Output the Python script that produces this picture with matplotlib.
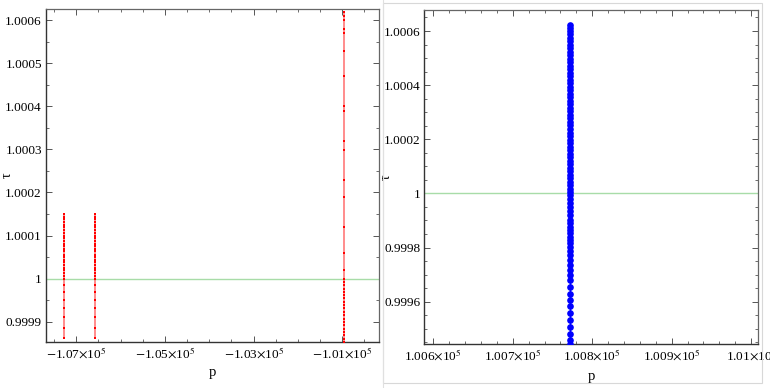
import matplotlib
matplotlib.use("Agg")
import matplotlib.pyplot as plt
from matplotlib.ticker import MultipleLocator, FixedLocator
from matplotlib.patches import Rectangle

plt.rcParams['font.family'] = ['Liberation Serif', 'DejaVu Serif']
plt.rcParams['mathtext.fontset'] = 'stix'

# ---------------- data ----------------
# left panel: red branches (p, tau)
red_p = [-107284, -106578, -100955]
red_tau_a = [1.000150, 1.000144, 1.000138, 1.000131, 1.000125, 1.000119, 1.000113,
             1.000106, 1.000100, 1.000094, 1.000088, 1.000081, 1.000075, 1.000069,
             1.000063, 1.000056, 1.000050, 1.000044, 1.000038, 1.000031, 1.000025,
             1.000019, 1.000013, 1.000006, 1.000000, 0.999985, 0.999968, 0.999951,
             0.999931, 0.999910, 0.999886, 0.999862]
red_tau_b = [1.000150, 1.000144, 1.000138, 1.000131, 1.000125, 1.000119, 1.000113,
             1.000106, 1.000100, 1.000094, 1.000088, 1.000081, 1.000075, 1.000069,
             1.000063, 1.000056, 1.000050, 1.000044, 1.000038, 1.000031, 1.000025,
             1.000019, 1.000013, 1.000006, 1.000000, 0.999985, 0.999968, 0.999951,
             0.999931, 0.999910, 0.999886, 0.999862]
red_tau_c = [1.000619, 1.000609, 1.000600, 1.000579, 1.000569, 1.000529, 1.000470,
             1.000400, 1.000390, 1.000319, 1.000299, 1.000230, 1.000190, 1.000120,
             1.000060, 1.000020, 1.000000, 0.999992, 0.999985, 0.999977, 0.999969,
             0.999962, 0.999954, 0.999946, 0.999938, 0.999931, 0.999923, 0.999915,
             0.999907, 0.999900, 0.999892, 0.999884, 0.999876, 0.999869, 0.999861,
             0.999853]

# right panel: blue branch
blue_p = 100771.6
blue_tau = [1.000622, 1.000612, 1.000600, 1.000588, 1.000575, 1.000562, 1.000550,
            1.000537, 1.000524, 1.000511, 1.000498, 1.000485, 1.000472, 1.000459,
            1.000446, 1.000433, 1.000420, 1.000407, 1.000394, 1.000381, 1.000368,
            1.000355, 1.000342, 1.000329, 1.000316, 1.000303, 1.000290, 1.000277,
            1.000264, 1.000251, 1.000238, 1.000225, 1.000212, 1.000199, 1.000186,
            1.000173, 1.000160, 1.000147, 1.000134, 1.000121, 1.000108, 1.000095,
            1.000082, 1.000069, 1.000056, 1.000043, 1.000030, 1.000018, 1.000006,
            0.999993, 0.999981, 0.999965, 0.999950, 0.999935, 0.999919, 0.999903,
            0.999889, 0.999876, 0.999864, 0.999852, 0.999839, 0.999827, 0.999815,
            0.999802, 0.999787, 0.999772, 0.999753, 0.999735, 0.999716, 0.999698,
            0.999679, 0.999654, 0.999630, 0.999608, 0.999583, 0.999558, 0.999531,
            0.999506, 0.999482, 0.999460, 0.999444]

ref_tau = 1.0

left_xticks = [-107000, -105000, -103000, -101000]
left_xlabels = [r"$-$1.07$\times$10$^{5}$", r"$-$1.05$\times$10$^{5}$",
                r"$-$1.03$\times$10$^{5}$", r"$-$1.01$\times$10$^{5}$"]
left_yticks = [0.9999, 1.0, 1.0001, 1.0002, 1.0003, 1.0004, 1.0005, 1.0006]
left_ylabels = ["0.9999", "1", "1.0001", "1.0002", "1.0003", "1.0004", "1.0005", "1.0006"]

right_xticks = [100600, 100700, 100800, 100900, 101000]
right_xlabels = [r"1.006$\times$10$^{5}$", r"1.007$\times$10$^{5}$", r"1.008$\times$10$^{5}$",
                 r"1.009$\times$10$^{5}$", r"1.01$\times$10$^{5}$"]
right_yticks = [0.9996, 0.9998, 1.0, 1.0002, 1.0004, 1.0006]
right_ylabels = ["0.9996", "0.9998", "1", "1.0002", "1.0004", "1.0006"]

# ---------------- figure ----------------
W, H = 770, 388
fig = plt.figure(figsize=(W / 100, H / 100), dpi=100)

def px_axes(x0, y0, x1, y1):
    return fig.add_axes([x0 / W, 1 - y1 / H, (x1 - x0) / W, (y1 - y0) / H])

ax1 = px_axes(46, 9, 379, 342)
ax2 = px_axes(424.3, 10.3, 758.3, 344.3)

# panel border on right image
fig.patches.append(Rectangle((383 / W, 1 - 383 / H), (762 - 383) / W, (383 - 3) / H,
                             transform=fig.transFigure, fill=False,
                             edgecolor='#d8d8d8', linewidth=0.8))
fig.add_artist(plt.Line2D([383 / W, 383 / W], [0, 1], transform=fig.transFigure,
                          color='#e0e0e0', linewidth=0.8))

tick_fs = 9.5

def style(ax):
    for s in ['left', 'bottom']:
        ax.spines[s].set_color('#333333')
        ax.spines[s].set_linewidth(1.0)
    for s in ['top', 'right']:
        ax.spines[s].set_color('#666666')
        ax.spines[s].set_linewidth(0.9)
    ax.tick_params(which='both', direction='in', top=True, right=True,
                   labeltop=False, labelright=False, color='#555555',
                   labelsize=tick_fs, pad=3)
    ax.tick_params(which='major', length=4, width=0.7)
    ax.tick_params(which='minor', length=2.2, width=0.6)

# left panel
for p, taus in zip(red_p, [red_tau_a, red_tau_b, red_tau_c]):
    ax1.plot([p] * len(taus), taus, color=(1, 0, 0, 0.45), linewidth=1.4, zorder=3)
    ax1.plot([p] * len(taus), taus, linestyle='none', marker='s', markersize=2.1,
             color='#ff0000', markeredgewidth=0, zorder=4)
ax1.axhline(ref_tau, color='#a8dca8', linewidth=1.0, zorder=2)
ax1.set_xlim(-107683, -100172)
ax1.set_ylim(0.999853, 1.0006257)
ax1.xaxis.set_major_locator(FixedLocator(left_xticks))
ax1.set_xticklabels(left_xlabels)
ax1.xaxis.set_minor_locator(MultipleLocator(500))
ax1.yaxis.set_major_locator(FixedLocator(left_yticks))
ax1.set_yticklabels(left_ylabels)
ax1.yaxis.set_minor_locator(MultipleLocator(0.00005))
style(ax1)
ax1.set_xlabel("p", fontsize=10.5)
ax1.set_ylabel("τ", fontsize=10)
ax1.xaxis.set_label_coords(0.5, -0.093, transform=ax1.transAxes)
ax1.yaxis.set_label_coords(-0.117, 0.5, transform=ax1.transAxes)
ax1.xaxis.label.set_va('center')
ax1.yaxis.label.set_va('center')
ax1.yaxis.label.set_ha('center')

# right panel
ax2.plot([blue_p] * len(blue_tau), blue_tau, color='#0000ff', linewidth=1.0, zorder=3)
ax2.plot([blue_p] * len(blue_tau), blue_tau, linestyle='none', marker='o', markersize=4.8,
         color='#0000ff', markeredgewidth=0, zorder=4)
ax2.axhline(ref_tau, color='#a8dca8', linewidth=1.0, zorder=2)
ax2.set_xlim(100588.7, 101009)
ax2.set_ylim(0.9994425, 1.0006765)
ax2.xaxis.set_major_locator(FixedLocator(right_xticks))
ax2.set_xticklabels(right_xlabels)
ax2.xaxis.set_minor_locator(MultipleLocator(20))
ax2.yaxis.set_major_locator(FixedLocator(right_yticks))
ax2.set_yticklabels(right_ylabels)
ax2.yaxis.set_minor_locator(MultipleLocator(0.00005))
style(ax2)
ax2.set_xlabel("p", fontsize=10.5)
ax2.set_ylabel("τ", fontsize=10)
ax2.xaxis.set_label_coords(0.5, -0.095, transform=ax2.transAxes)
ax2.yaxis.set_label_coords(-0.1126, 0.5, transform=ax2.transAxes)
ax2.xaxis.label.set_va('center')
ax2.yaxis.label.set_va('center')
ax2.yaxis.label.set_ha('center')

fig.savefig("out.png", dpi=100)
